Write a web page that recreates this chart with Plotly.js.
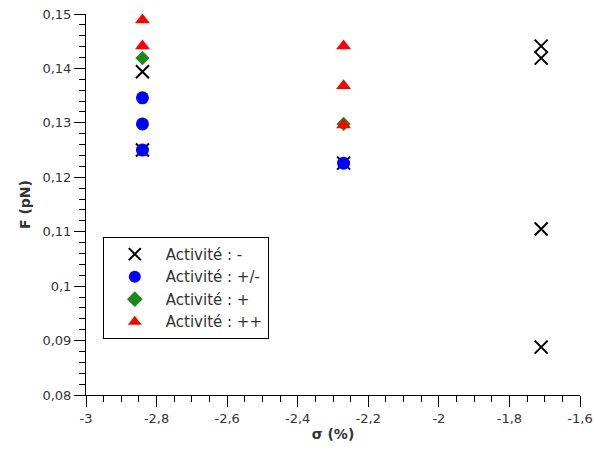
<!DOCTYPE html>
<html>
<head>
<meta charset="utf-8">
<script src="https://cdn.plot.ly/plotly-3.0.1.min.js"></script>
<style>html,body{margin:0;padding:0;background:#fff;}</style>
</head>
<body>
<div id="chart" style="width:594px;height:450px;"></div>
<script>
// Data
const xMinus = [-2.84, -2.84, -2.27, -1.71, -1.71, -1.71, -1.71];
const yMinus = [0.1394, 0.1250, 0.1226, 0.1441, 0.1419, 0.1105, 0.0888];
const xPM = [-2.84, -2.84, -2.84, -2.27];
const yPM = [0.1346, 0.1298, 0.1250, 0.1226];
const xPlus = [-2.84, -2.27];
const yPlus = [0.1419, 0.1298];
const xPP = [-2.84, -2.84, -2.27, -2.27, -2.27];
const yPP = [0.1489, 0.1441, 0.1441, 0.1368, 0.1296];
const names = ["Activité : -", "Activité : +/-", "Activité : +", "Activité : ++"];
const xTickVals = [-3, -2.8, -2.6, -2.4, -2.2, -2, -1.8, -1.6];
const xTickText = ["-3", "-2,8", "-2,6", "-2,4", "-2,2", "-2", "-1,8", "-1,6"];
const yTickVals = [0.08, 0.09, 0.1, 0.11, 0.12, 0.13, 0.14, 0.15];
const yTickText = ["0,08", "0,09", "0,1", "0,11", "0,12", "0,13", "0,14", "0,15"];

const traces = [
  {x: xMinus, y: yMinus, name: names[0], mode: 'markers', type: 'scatter',
   marker: {symbol: 'x-thin-open', size: 13, color: '#000', line: {width: 2, color: '#000'}}},
  {x: xPM, y: yPM, name: names[1], mode: 'markers', type: 'scatter',
   marker: {symbol: 'circle', size: 13, color: '#0000ff'}},
  {x: xPlus, y: yPlus, name: names[2], mode: 'markers', type: 'scatter',
   marker: {symbol: 'diamond', size: 11, color: '#1a8a1a'}},
  {x: xPP, y: yPP, name: names[3], mode: 'markers', type: 'scatter',
   marker: {symbol: 'triangle-up', size: 13, color: '#ff0000'}}
];

const layout = {
  width: 594, height: 450,
  margin: {l: 86, r: 14, t: 14, b: 55},
  paper_bgcolor: '#fff', plot_bgcolor: '#fff',
  font: {family: 'DejaVu Sans', size: 13, color: '#333'},
  showlegend: true,
  legend: {x: 0.034, y: 0.415, xanchor: 'left', yanchor: 'top',
           bordercolor: '#000', borderwidth: 1, bgcolor: '#fff',
           font: {family: 'DejaVu Sans', size: 15, color: '#333'},
           itemwidth: 52, itemsizing: 'constant', tracegroupgap: 0},
  xaxis: {
    range: [-3, -1.6], showgrid: false, zeroline: false,
    showline: true, linecolor: '#000', linewidth: 1,
    ticks: 'outside', ticklen: 11, tickcolor: '#000',
    tickvals: xTickVals, ticktext: xTickText,
    minor: {ticks: 'outside', ticklen: 6, tickcolor: '#000', dtick: 0.05, showgrid: false},
    title: {text: '<b>σ (%)</b>', font: {family: 'DejaVu Sans', size: 14, color: '#333'}, standoff: 4}
  },
  yaxis: {
    range: [0.08, 0.15], showgrid: false, zeroline: false,
    showline: true, linecolor: '#000', linewidth: 1,
    ticks: 'outside', ticklen: 11, tickcolor: '#000',
    tickvals: yTickVals, ticktext: yTickText,
    minor: {ticks: 'outside', ticklen: 6, tickcolor: '#000', dtick: 0.002, showgrid: false},
    title: {text: '<b>F (pN)</b>', font: {family: 'DejaVu Sans', size: 14, color: '#333'}, standoff: 8}
  }
};

Plotly.newPlot('chart', traces, layout, {displayModeBar: false, staticPlot: true});
</script>
</body>
</html>
